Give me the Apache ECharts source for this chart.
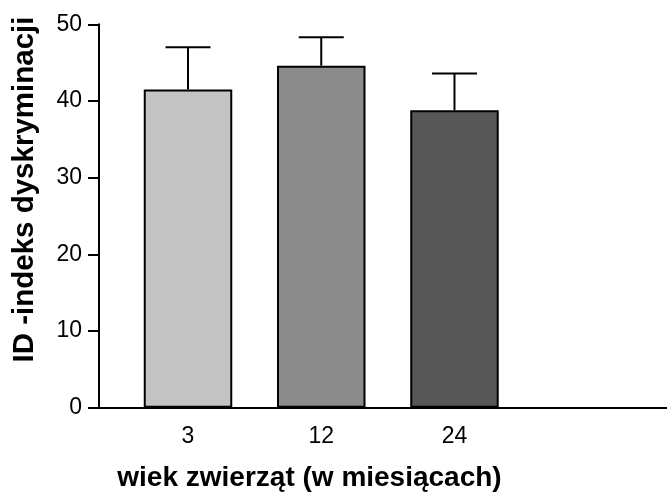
<!DOCTYPE html>
<html>
<head>
<meta charset="utf-8">
<script src="https://cdn.jsdelivr.net/npm/echarts@6/dist/echarts.min.js"></script>
<style>
html,body{margin:0;padding:0;background:#fff;}
#chart{width:667px;height:495px;}
</style>
</head>
<body>
<div id="chart"></div>
<script>
// ---- data ----
var categories = ['3', '12', '24'];
var means = [41.5, 44.6, 38.8];
var errorTops = [47.0, 48.3, 43.6];
var yTicks = [0, 10, 20, 30, 40, 50];
var xTitle = 'wiek zwierząt (w miesiącach)';
var yTitle = 'ID -indeks dyskryminacji';

// ---- styles ----
var barColors = ['#c3c3c3', '#8b8b8b', '#575757'];
var FONT = '"Liberation Sans", Arial, Helvetica, sans-serif';

var chart = echarts.init(document.getElementById('chart'), null, {renderer: 'canvas'});

var barData = means.map(function (v, i) {
  return {value: [i, v], itemStyle: {color: barColors[i]}};
});
var errData = means.map(function (v, i) {
  return [i, v, errorTops[i]];
});

var option = {
  animation: false,
  backgroundColor: '#ffffff',
  grid: {left: 99, right: 0, top: 24.3, bottom: 87.3, containLabel: false},
  xAxis: {
    type: 'value',
    min: -0.668,
    max: 3.595,
    axisLine: {show: true, onZero: false, lineStyle: {color: '#000', width: 2}},
    axisTick: {show: false},
    splitLine: {show: false},
    axisLabel: {
      customValues: [0, 1, 2],
      formatter: function (v) { return categories[Math.round(v)]; },
      color: '#000',
      fontSize: 23,
      fontFamily: FONT,
      margin: 17
    }
  },
  yAxis: {
    type: 'value',
    min: yTicks[0],
    max: yTicks[yTicks.length - 1],
    interval: 10,
    axisLine: {show: true, onZero: false, lineStyle: {color: '#000', width: 2}},
    axisTick: {show: true, length: 11, lineStyle: {color: '#000', width: 2}},
    splitLine: {show: false},
    axisLabel: {color: '#000', fontSize: 23, fontFamily: FONT, margin: 17}
  },
  series: [
    {
      type: 'bar',
      data: barData,
      barWidth: 88.5,
      itemStyle: {borderColor: '#000', borderWidth: 2},
      z: 2
    },
    {
      type: 'custom',
      data: errData,
      z: 3,
      renderItem: function (params, api) {
        var x = api.value(0);
        var base = api.coord([x, api.value(1)]);
        var top = api.coord([x, api.value(2)]);
        var half = 22.5;
        var style = {stroke: '#000', lineWidth: 2};
        return {
          type: 'group',
          children: [
            {type: 'line', shape: {x1: base[0], y1: base[1], x2: top[0], y2: top[1]}, style: style},
            {type: 'line', shape: {x1: top[0] - half, y1: top[1], x2: top[0] + half, y2: top[1]}, style: style}
          ]
        };
      }
    }
  ],
  graphic: [
    {
      type: 'text',
      x: 309.5,
      y: 478,
      style: {
        text: xTitle,
        fill: '#000',
        font: 'bold 28px ' + FONT,
        align: 'center',
        verticalAlign: 'middle'
      }
    },
    {
      type: 'text',
      x: 25,
      y: 189.5,
      rotation: Math.PI / 2,
      style: {
        text: yTitle,
        fill: '#000',
        font: 'bold 29.5px ' + FONT,
        align: 'center',
        verticalAlign: 'middle'
      }
    }
  ]
};
chart.setOption(option);
</script>
</body>
</html>
